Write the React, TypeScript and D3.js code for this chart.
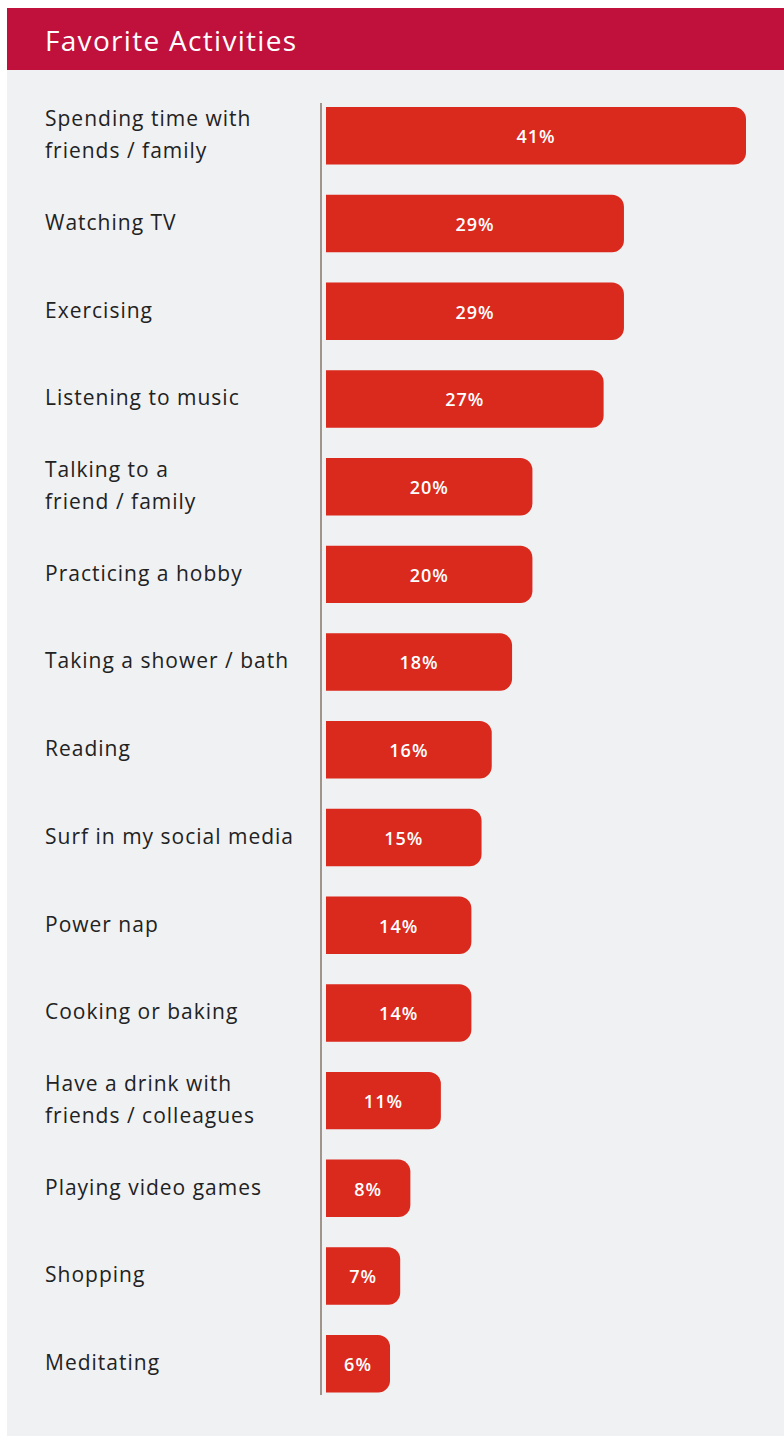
import React from "react";
import * as d3 from "d3";

const title = "Favorite Activities";
const categories: string[][] = [
  ["Spending time with", "friends / family"],
  ["Watching TV"],
  ["Exercising"],
  ["Listening to music"],
  ["Talking to a", "friend / family"],
  ["Practicing a hobby"],
  ["Taking a shower / bath"],
  ["Reading"],
  ["Surf in my social media"],
  ["Power nap"],
  ["Cooking or baking"],
  ["Have a drink with", "friends / colleagues"],
  ["Playing video games"],
  ["Shopping"],
  ["Meditating"],
];
const values = [41, 29, 29, 27, 20, 20, 18, 16, 15, 14, 14, 11, 8, 7, 6];

const W = 784;
const H = 1436;
const FONT = "'Open Sans', Lato, sans-serif";

export default function App() {
  const idx = values.map((_, i) => String(i));
  const y = d3.scaleBand().domain(idx).range([92.2, 1407.4]).paddingInner(0.345).paddingOuter(0.17);
  const x = d3.scaleLinear().domain([0, 41]).range([329, 746]);
  const x0 = 326;
  const bh = y.bandwidth();
  const r = 12;
  const barPath = (v: number, top: number) => {
    const x1 = x(v);
    const p = d3.path();
    p.moveTo(x0, top);
    p.lineTo(x1 - r, top);
    p.arcTo(x1, top, x1, top + r, r);
    p.lineTo(x1, top + bh - r);
    p.arcTo(x1, top + bh, x1 - r, top + bh, r);
    p.lineTo(x0, top + bh);
    p.closePath();
    return p.toString();
  };
  return (
    <svg width={W} height={H} style={{ position: "absolute", left: 0, top: 0 }} fontFamily={FONT}>
      <rect x={7} y={70} width={W - 7} height={H - 70} fill="#f0f1f3" />
      <rect x={7} y={8} width={W - 7} height={62} fill="#c0103c" />
      <text x={45} y={41} dy="0.35em" fill="#fff" fontSize={28} fontWeight={500} letterSpacing={1.3}>
        {title}
      </text>
      <line x1={321} x2={321} y1={103} y2={1395} stroke="#a0958d" strokeWidth={2} />
      {values.map((v, i) => {
        const top = y(String(i))!;
        const cy = top + bh / 2;
        const lines = categories[i];
        const lh = 32;
        return (
          <g key={i}>
            <path d={barPath(v, top)} fill="#da291d" />
            <text x={(x0 + x(v)) / 2} y={cy + 1} dy="0.35em" textAnchor="middle" fill="#fff" fontSize={18} fontWeight={600} letterSpacing={1}>
              {v}%
            </text>
            {lines.map((l, j) => (
              <text
                key={j}
                x={45}
                y={cy + (j - (lines.length - 1) / 2) * lh - 1}
                dy="0.35em"
                fill="#222"
                fontSize={21}
                fontWeight={500}
                letterSpacing={1}
              >
                {l}
              </text>
            ))}
          </g>
        );
      })}
    </svg>
  );
}
